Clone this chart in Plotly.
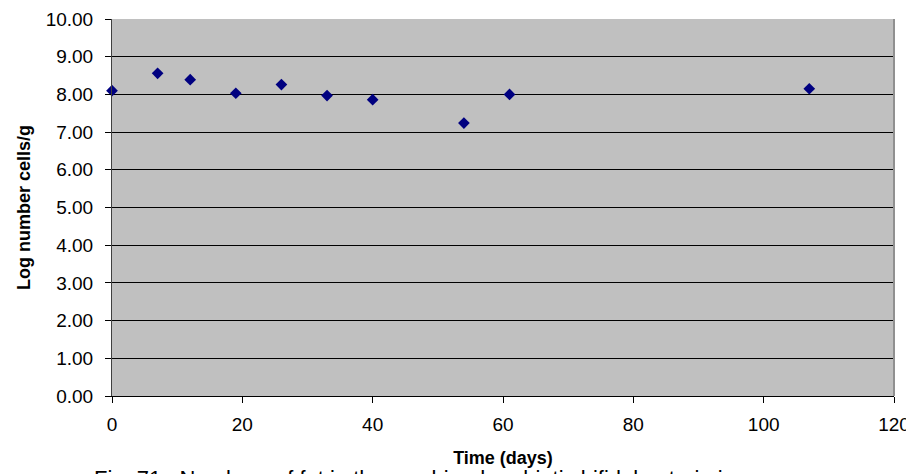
import plotly.graph_objects as go

days = [0, 7, 12, 19, 26, 33, 40, 54, 61, 107]
log_cells = [8.10, 8.56, 8.39, 8.03, 8.26, 7.97, 7.86, 7.24, 8.00, 8.15]
y_ticks = [0, 1, 2, 3, 4, 5, 6, 7, 8, 9, 10]
y_tick_labels = ["%.2f" % v for v in y_ticks]
x_ticks = [0, 20, 40, 60, 80, 100, 120]

FONT = "Liberation Sans, Arial, sans-serif"

fig = go.Figure()
fig.add_trace(go.Scatter(
    x=days, y=log_cells, mode="markers",
    marker=dict(symbol="diamond", size=9, color="#000080"),
    showlegend=False, cliponaxis=False,
))

# the page body has an 8px margin, so the figure is sized to fill the rest
fig.update_layout(
    width=906, height=466,
    margin=dict(l=104, r=20, t=11, b=78),
    paper_bgcolor="white",
    plot_bgcolor="#C0C0C0",
    font=dict(family=FONT, color="black"),
    xaxis=dict(
        range=[0, 120], tickvals=x_ticks, ticktext=[str(v) for v in x_ticks],
        showgrid=False, zeroline=False, automargin=False,
        showline=True, linecolor="black", linewidth=1,
        ticks="outside", ticklen=6, tickcolor="black",
        ticklabelstandoff=5,
        tickfont=dict(size=19, family=FONT),
        title=dict(text="<b>Time (days)</b>", font=dict(size=18, family=FONT), standoff=17),
    ),
    yaxis=dict(
        range=[0, 10], tickvals=y_ticks, ticktext=y_tick_labels,
        showgrid=True, gridcolor="black", gridwidth=1,
        zeroline=False, automargin=False,
        showline=True, linecolor="#404040", linewidth=1,
        ticks="outside", ticklen=6, tickcolor="black",
        ticklabelstandoff=8,
        tickfont=dict(size=19, family=FONT),
        title=dict(text="<b>Log number cells/g</b>", font=dict(size=18, family=FONT), standoff=10),
    ),
    shapes=[
        dict(type="line", xref="paper", yref="paper", x0=1, x1=1, y0=0, y1=1,
             line=dict(color="#909090", width=2)),
    ],
    annotations=[
        dict(text="Fig. 71:  Numbers of fat in the combined probiotic bifidobacteria in",
             xref="paper", yref="paper", x=-0.026, y=-0.180, xanchor="left", yanchor="top",
             showarrow=False, font=dict(size=22, family=FONT, color="black")),
    ],
)

fig.write_html("out.html")
